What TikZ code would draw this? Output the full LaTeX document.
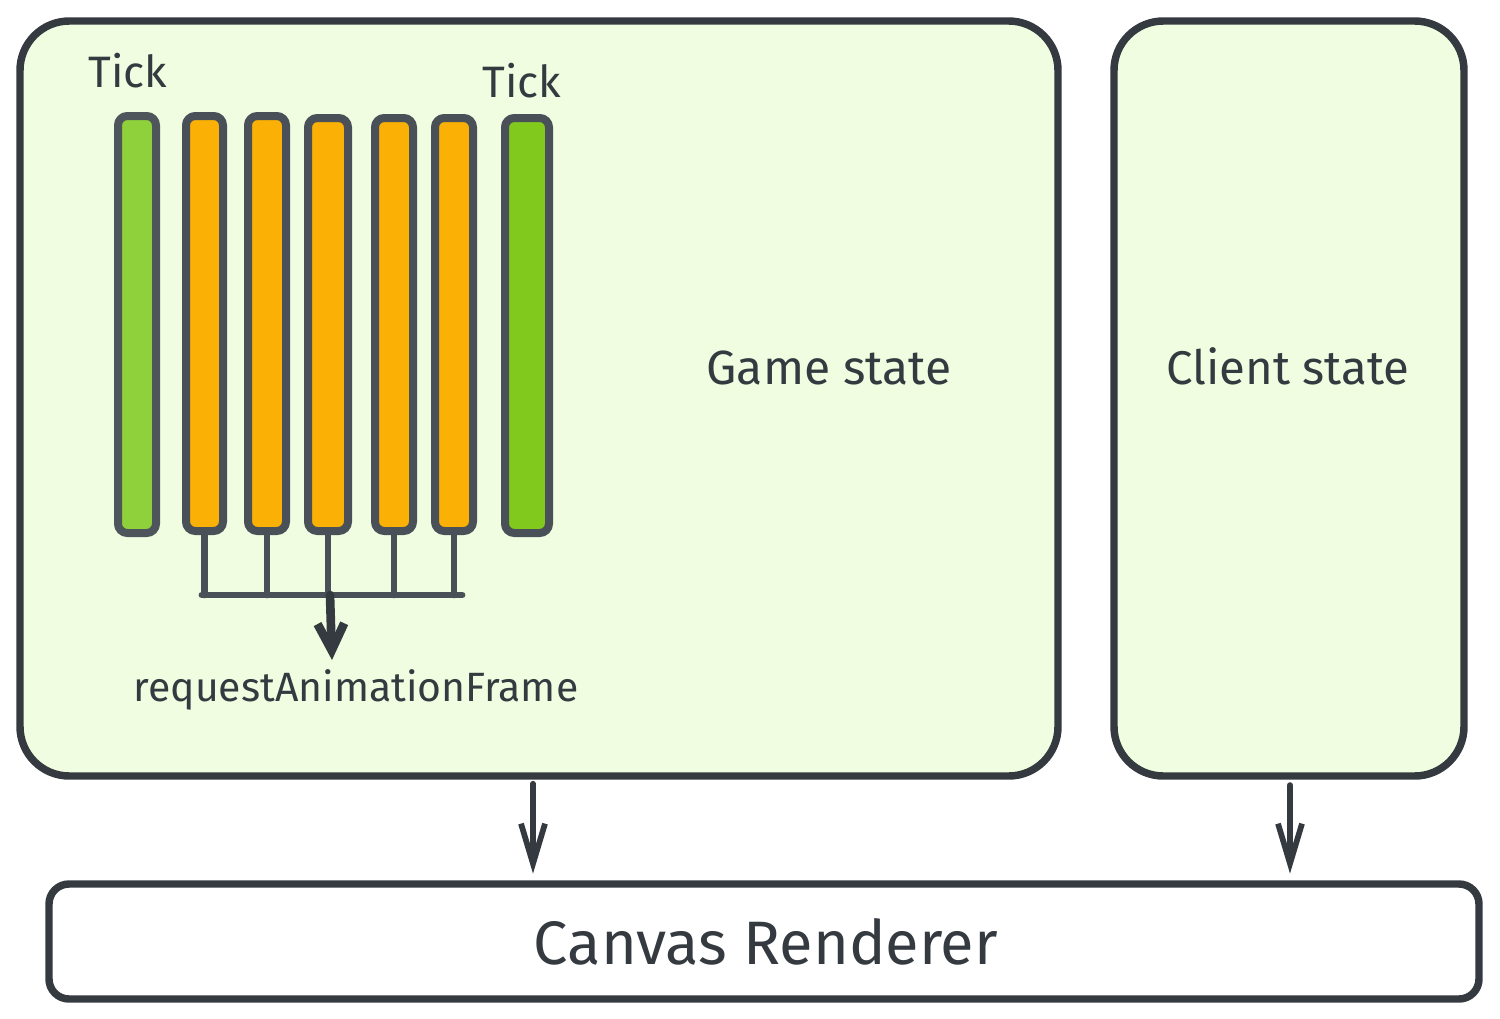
\documentclass[tikz,border=0pt]{standalone}
\usepackage{fontspec}
\setmainfont{Fira Sans}
\usetikzlibrary{fit,arrows.meta}
\definecolor{ink}{HTML}{343A40}
\definecolor{barink}{HTML}{495057}
\definecolor{boxfill}{HTML}{F0FDE0}
\definecolor{orng}{HTML}{FAB005}
\definecolor{grn}{HTML}{82C91E}
\definecolor{grnl}{HTML}{8FD13A}
\begin{document}
\begin{tikzpicture}[x=0.75pt,y=-0.75pt,
  panel/.style={draw=ink, line width=5.6pt, fill=boxfill, rounded corners=37pt, inner sep=0pt},
  renderbox/.style={draw=ink, line width=5.6pt, fill=white, rounded corners=15pt, inner sep=0pt},
  bar/.style={draw=barink, line width=6pt, rounded corners=7pt, inner sep=0pt},
  tickbar/.style={bar, fill=grn},
  tickbarl/.style={bar, fill=grnl, draw=barink!90!gray},
  framebar/.style={bar, fill=orng},
  lbl/.style={text=ink, inner sep=0pt, font=\fontsize{#1}{#1}\selectfont},
  stem/.style={draw=barink, line width=5pt, line cap=round},
  flow/.style={draw=ink, line width=4.3pt, line cap=round, line join=round,
    -{Straight Barb[length=30pt,width=18pt]}},
  flowthick/.style={draw=ink, line width=6.5pt, line cap=round, line join=round,
    -{Straight Barb[length=20pt,width=20pt]}}
]
\useasboundingbox (0,0) rectangle (1500,1018);

% panels
\node[panel, fit={(20,21) (1058,776)}] (game) {};
\node[panel, fit={(1114,21) (1464,776)}] (client) {};
\node[renderbox, fit={(49,884) (1479,999)}] (render) {};

% labels
\node[lbl=36pt] (gs) at (829,368) {Game state};
\node[lbl=35.5pt] (cs) at (1288,366) {Client state};
\node[lbl=46pt] (cr) at (766,942) {Canvas Renderer};
\node[lbl=33pt] (tick1) at (128,71) {Tick};
\node[lbl=33pt] (tick2) at (522,81) {Tick};
\node[lbl=30.7pt] (raf) at (356,690) {requestAnimationFrame};

% bars
\node[tickbarl, fit={(118,116) (156,533)}] (t1) {};
\node[framebar, fit={(186,116) (223,531)}] (o1) {};
\node[framebar, fit={(248,116) (286,531)}] (o2) {};
\node[framebar, fit={(308,118) (348,531)}] (o3) {};
\node[framebar, fit={(375,118) (413,531)}] (o4) {};
\node[framebar, fit={(435,118) (473,531)}] (o5) {};
\node[tickbar, fit={(505,118) (549,533)}] (t2) {};

% bus
\coordinate (busl) at (202,595);
\coordinate (busr) at (462,595);
\coordinate (busm) at (330,595);
\coordinate (raftip) at (332,660);
\foreach \b in {o1,o2,o3,o4,o5}{
  \draw[stem] (\b.south) -- (\b.south |- busl);
}
\draw[stem, line width=5.2pt] (busl) -- (busr);
\draw[flowthick] (busm) -- (raftip);

% main arrows
\coordinate (a1) at (533,0);
\coordinate (a2) at (1290,0);
\draw[flow, shorten <=3pt, shorten >=5pt] (game.south -| a1) -- (render.north -| a1);
\draw[flow, shorten <=4pt, shorten >=5pt] (client.south -| a2) -- (render.north -| a2);
\end{tikzpicture}
\end{document}
